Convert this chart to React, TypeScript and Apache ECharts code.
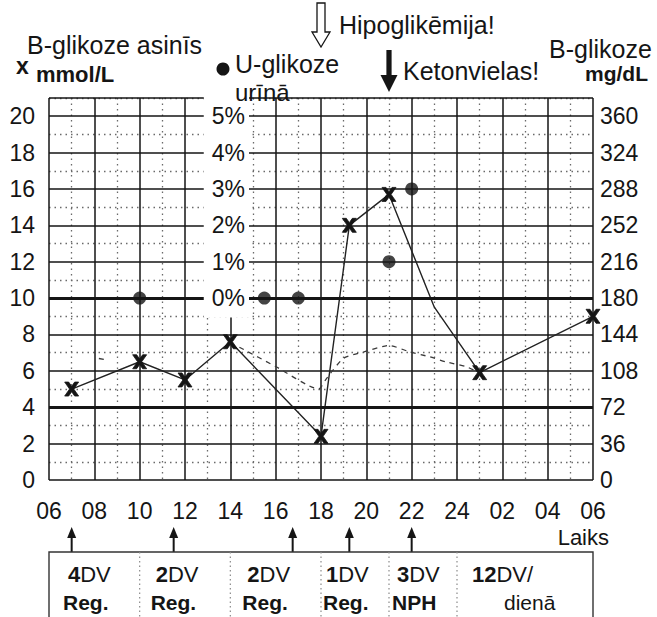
import React, { useEffect, useRef } from 'react';
import * as echarts from 'echarts';

// ---------- data ----------
const glucoseTimes = [7, 10, 12, 14, 18, 19.25, 21, 23, 25, 30];
const glucoseMmol = [5.0, 6.5, 5.5, 7.6, 2.4, 14.0, 15.7, 9.5, 5.9, 9.0];
const glucoseMarked = [true, true, true, true, true, true, true, false, true, true];

const expectedTimesA = [8.2, 8.5];
const expectedMmolA = [6.68, 6.62];
const expectedTimesB = [14.4, 16, 17.9, 18.2, 18.5, 19, 19.9, 21, 21.9, 22.8, 23.5, 24.4, 24.9];
const expectedMmolB = [7.3, 6.24, 5.0, 5.5, 6.0, 6.7, 7.05, 7.4, 7.05, 6.77, 6.5, 6.23, 5.95];

const urineTimes = [10, 15.5, 17, 21, 22];
const urinePercent = [0, 0, 0, 1, 3];

const targetBand = [4, 10];

const injectionTimes = [7, 11.5, 16.75, 19.25, 22];
const tableBounds = [6, 10, 14, 18, 21, 24, 30];
const doseUnits = ['4', '2', '2', '1', '3', '12'];
const doseLabels = ['DV', 'DV', 'DV', 'DV', 'DV', 'DV/'];
const insulinTypes = ['Reg.', 'Reg.', 'Reg.', 'Reg.', 'NPH', 'dienā'];

const alertHours = [18, 21];
const alertTexts = ['Hipoglikēmija!', 'Ketonvielas!'];

// ---------- layout / style ----------
const FF = '"Liberation Sans", Arial, Helvetica, sans-serif';
const INK = '#151515';
const DOT = '#6a6a6a';
const row1Offsets = [19, 16, 17, 5, 8, 15];
const row2Offsets = [14, 11, 12, 2, 3, 47];
const xSymbol =
  'path://M0,0L4,0L7,4.3L10,0L14,0L9.1,7L14,14L10,14L7,9.7L4,14L0,14L4.9,7Z';

const hourLabel = (h: number) => {
  if (h === 24) return '24';
  const v = h % 24;
  return v < 10 ? '0' + v : String(v);
};

function buildOption() {
  const glucoseData = glucoseTimes.map((t, i) =>
    glucoseMarked[i]
      ? [t, glucoseMmol[i]]
      : { value: [t, glucoseMmol[i]], symbol: 'none' }
  );
  const dashStyle = { color: '#3a3a3a', width: 1.3, type: [5, 5] as any };
  return {
    animation: false,
    backgroundColor: '#fff',
    grid: { left: 49, right: 64, top: 98, bottom: 137 },
    xAxis: [
      {
        type: 'value',
        min: 6,
        max: 30,
        interval: 2,
        axisLine: { show: false },
        axisTick: { show: false },
        axisLabel: {
          formatter: hourLabel,
          fontSize: 23,
          fontFamily: FF,
          color: INK,
          margin: 19,
          showMinLabel: true,
          showMaxLabel: true,
        },
        splitLine: { show: true, lineStyle: { color: INK, width: 1.5, type: 'solid' } },
        z: 1,
      },
      {
        type: 'value',
        min: 6,
        max: 30,
        interval: 1,
        axisLine: { show: false },
        axisTick: { show: false },
        axisLabel: { show: false },
        splitLine: {
          show: true,
          lineStyle: { color: ['transparent', DOT], width: 1.3, type: [1.5, 4] },
        },
        z: 0,
      },
    ],
    yAxis: [
      {
        type: 'value',
        position: 'left',
        min: 0,
        max: 21,
        interval: 2,
        axisLine: { show: false },
        axisTick: { show: false },
        axisLabel: {
          formatter: (v: number) => (v > 20 ? '' : String(v)),
          fontSize: 23,
          fontFamily: FF,
          color: INK,
          margin: 14,
          showMinLabel: true,
          showMaxLabel: true,
        },
        splitLine: { show: true, lineStyle: { color: INK, width: 1.5, type: 'solid' } },
        z: 1,
      },
      {
        type: 'value',
        position: 'left',
        offset: -200,
        min: -5,
        max: 5.5,
        interval: 1,
        axisLine: { show: false },
        axisTick: { show: false },
        splitLine: { show: false },
        axisLabel: {
          margin: 0,
          showMinLabel: true,
          showMaxLabel: true,
          formatter: (v: number) =>
            v >= 0 && v <= 5 && Number.isInteger(v) ? `{p|${v}%}` : '',
          rich: {
            p: {
              fontSize: 23,
              fontFamily: FF,
              color: INK,
              backgroundColor: '#fff',
              padding: [8, 4, 8, 8],
            },
          },
        },
        z: 5,
      },
      {
        type: 'value',
        position: 'right',
        min: 0,
        max: 378,
        interval: 36,
        axisLine: { show: false },
        axisTick: { show: false },
        splitLine: { show: false },
        axisLabel: {
          formatter: (v: number) => (v > 360 ? '' : String(v)),
          fontSize: 23,
          fontFamily: FF,
          color: INK,
          margin: 7,
          showMinLabel: true,
          showMaxLabel: true,
        },
      },
      {
        type: 'value',
        position: 'left',
        min: 0,
        max: 21,
        interval: 1,
        axisLine: { show: false },
        axisTick: { show: false },
        axisLabel: { show: false },
        splitLine: {
          show: true,
          lineStyle: { color: ['transparent', DOT], width: 1.3, type: [1.5, 4] },
        },
        z: 0,
      },
    ],
    series: [
      {
        name: 'B-glikoze',
        type: 'line',
        xAxisIndex: 0,
        yAxisIndex: 0,
        data: glucoseData,
        symbol: xSymbol,
        symbolSize: 14,
        showSymbol: true,
        itemStyle: { color: INK, borderColor: INK, borderWidth: 0.8 },
        lineStyle: { color: '#222', width: 1.4 },
        z: 3,
        markLine: {
          silent: true,
          symbol: ['none', 'none'],
          label: { show: false },
          lineStyle: { color: INK, width: 3.2, type: 'solid' },
          data: targetBand.map((v) => ({ yAxis: v })),
        },
      },
      {
        name: 'expected-a',
        type: 'line',
        xAxisIndex: 0,
        yAxisIndex: 0,
        data: expectedTimesA.map((t, i) => [t, expectedMmolA[i]]),
        showSymbol: false,
        symbol: 'none',
        lineStyle: dashStyle,
        z: 2,
      },
      {
        name: 'expected-b',
        type: 'line',
        xAxisIndex: 0,
        yAxisIndex: 0,
        data: expectedTimesB.map((t, i) => [t, expectedMmolB[i]]),
        showSymbol: false,
        symbol: 'none',
        smooth: 0.2,
        lineStyle: dashStyle,
        z: 2,
      },
      {
        name: 'U-glikoze',
        type: 'scatter',
        xAxisIndex: 0,
        yAxisIndex: 1,
        data: urineTimes.map((t, i) => [t, urinePercent[i]]),
        symbol: 'circle',
        symbolSize: 13,
        itemStyle: { color: INK },
        z: 4,
      },
    ],
  };
}

function txt(x: number, y: number, text: string, size: number, opts: any = {}) {
  return {
    type: 'text',
    x,
    y,
    z: 10,
    style: {
      text,
      fontSize: size,
      fontFamily: FF,
      fontWeight: opts.bold ? 'bold' : 'normal',
      fill: INK,
      align: opts.align || 'left',
      verticalAlign: 'middle',
      ...(opts.rich ? { rich: opts.rich } : {}),
    },
  };
}

function buildGraphics(xp: (h: number) => number, y0: number) {
  const els: any[] = [];
  const tableTop = y0 + 72;
  const tableBottom = y0 + 160;
  const arrowTip = y0 + 47;

  // top texts
  els.push(txt(27, 44.5, 'B-glikoze asinīs', 25));
  els.push(txt(16, 66, 'x', 23, { bold: true }));
  els.push(txt(36, 74, 'mmol/L', 22, { bold: true }));
  els.push({ type: 'circle', z: 10, shape: { cx: 223, cy: 69, r: 6.5 }, style: { fill: INK } });
  els.push(txt(235, 64, 'U-glikoze', 25));
  els.push(txt(235, 92, 'urīnā', 24));
  els.push(txt(549, 48.5, 'B-glikoze', 25));
  els.push(txt(648, 73.5, 'mg/dL', 21, { bold: true, align: 'right' }));

  // alert arrows
  const hx = xp(alertHours[0]);
  els.push({
    type: 'polygon',
    z: 10,
    shape: {
      points: [
        [hx - 4, 3], [hx + 4, 3], [hx + 4, 32], [hx + 9, 32], [hx, 47], [hx - 9, 32], [hx - 4, 32],
      ],
    },
    style: { fill: '#fff', stroke: INK, lineWidth: 1.3 },
  });
  els.push(txt(hx + 18, 24.5, alertTexts[0], 25));
  const kx = xp(alertHours[1]);
  els.push({
    type: 'polygon',
    z: 10,
    shape: {
      points: [
        [kx - 2.6, 50], [kx + 2.6, 50], [kx + 2.6, 75], [kx + 8.5, 75], [kx, 92], [kx - 8.5, 75], [kx - 2.6, 75],
      ],
    },
    style: { fill: INK },
  });
  els.push(txt(kx + 14, 70.5, alertTexts[1], 25));

  // Laiks
  els.push(txt(609, 537, 'Laiks', 22, { align: 'right' }));

  // injection arrows
  injectionTimes.forEach((t) => {
    const x = xp(t);
    els.push({
      type: 'line',
      z: 10,
      shape: { x1: x, y1: arrowTip + 8, x2: x, y2: tableTop },
      style: { stroke: INK, lineWidth: 2 },
    });
    els.push({
      type: 'polygon',
      z: 10,
      shape: { points: [[x - 4.5, arrowTip + 11], [x + 4.5, arrowTip + 11], [x, arrowTip]] },
      style: { fill: INK },
    });
  });

  // table
  const xl = xp(tableBounds[0]);
  const xr = xp(tableBounds[tableBounds.length - 1]);
  els.push({
    type: 'polyline',
    z: 10,
    shape: { points: [[xl, tableBottom], [xl, tableTop], [xr, tableTop], [xr, tableBottom]] },
    style: { stroke: '#333', lineWidth: 1.4, fill: null },
  });
  for (let i = 1; i < tableBounds.length - 1; i++) {
    const x = xp(tableBounds[i]);
    els.push({
      type: 'line',
      z: 10,
      shape: { x1: x, y1: tableTop, x2: x, y2: tableBottom },
      style: { stroke: '#8a8a8a', lineWidth: 1.2, lineDash: [1.5, 3] },
    });
  }
  for (let i = 0; i < doseUnits.length; i++) {
    const x0 = xp(tableBounds[i]);
    els.push(
      txt(x0 + row1Offsets[i], tableTop + 22.5, `{b|${doseUnits[i]}}{r|${doseLabels[i]}}`, 22, {
        rich: {
          b: { fontSize: 22, fontFamily: FF, fontWeight: 'bold', fill: INK, color: INK },
          r: { fontSize: 22, fontFamily: FF, fontWeight: 'normal', fill: INK, color: INK },
        },
      })
    );
    els.push(
      txt(x0 + row2Offsets[i], tableTop + 50.5, insulinTypes[i], 21, {
        bold: insulinTypes[i] !== 'dienā',
      })
    );
  }
  return els;
}

export default function App() {
  const ref = useRef<HTMLDivElement>(null);
  useEffect(() => {
    if (!ref.current) return;
    const chart = echarts.init(ref.current, null, { renderer: 'svg' });
    chart.setOption(buildOption() as any);
    const xp = (h: number) => chart.convertToPixel({ xAxisIndex: 0 }, h) as unknown as number;
    const y0 = chart.convertToPixel({ yAxisIndex: 0 }, 0) as unknown as number;
    chart.setOption({ graphic: buildGraphics(xp, y0) } as any);
    return () => chart.dispose();
  }, []);
  return (
    <div
      ref={ref}
      style={{ position: 'fixed', left: 0, top: 0, width: 657, height: 617, background: '#fff' }}
    />
  );
}
